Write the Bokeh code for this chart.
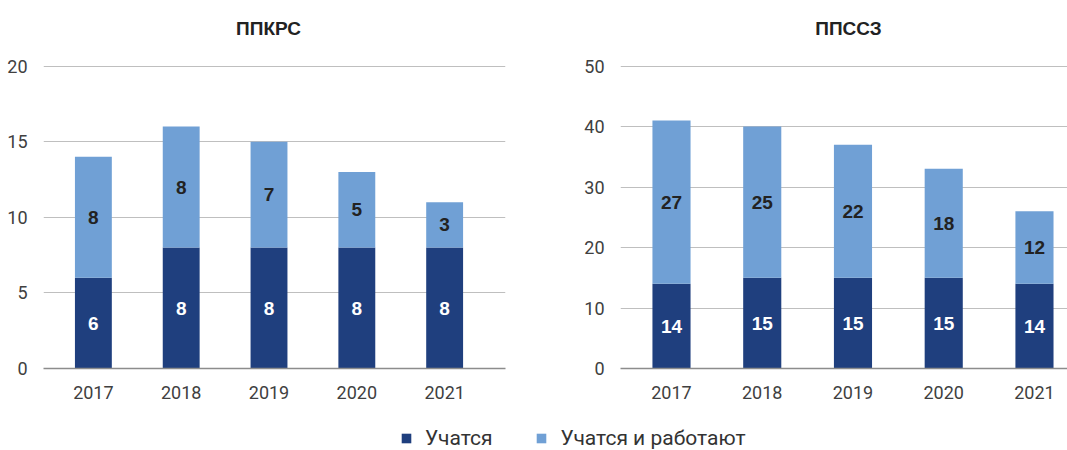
from bokeh.plotting import figure
from bokeh.models import (ColumnDataSource, Range1d, FixedTicker, Legend, LegendItem, Label)
from bokeh.layouts import column, row
from bokeh.core.properties import value
from bokeh.embed import file_html
from bokeh.resources import INLINE

# ---- data ----
years = ["2017", "2018", "2019", "2020", "2021"]
series_names = ["Учатся", "Учатся и работают"]
ppkrs_study = [6, 8, 8, 8, 8]
ppkrs_work = [8, 8, 7, 5, 3]
ppssz_study = [14, 15, 15, 15, 14]
ppssz_work = [27, 25, 22, 18, 12]
ppkrs_yticks = [0, 5, 10, 15, 20]
ppssz_yticks = [0, 10, 20, 30, 40, 50]

DARK = "#1f3f7e"
LIGHT = "#70a0d5"
TICK_FONT = "Roboto"
BOLD_FONT = "Liberation Sans"

FIG_H = 405
BORDER_BOTTOM = 37
FRAME_H = FIG_H - BORDER_BOTTOM     # frame reaches the top of the canvas (title lives inside)
SCALE_H = 302.5                      # pixel height from 0 to the top tick
TITLE_Y = 28                         # title centre, px from canvas top


def make_chart(title, study, work, yticks, width, border_left, border_right,
               x_start, x_end, title_x):
    xs = list(range(len(years)))
    src = ColumnDataSource(dict(
        x=xs,
        study=study,
        work=work,
        study_mid=[s / 2 for s in study],
        work_mid=[s + w / 2 for s, w in zip(study, work)],
        study_lbl=[str(s) for s in study],
        work_lbl=[str(w) for w in work],
    ))
    y_end = yticks[-1] * FRAME_H / SCALE_H
    p = figure(width=width, height=FIG_H, output_backend="svg", toolbar_location=None,
               title=None,
               x_range=Range1d(x_start, x_end), y_range=Range1d(yticks[0], y_end),
               min_border_left=border_left, min_border_right=border_right,
               min_border_top=0, min_border_bottom=BORDER_BOTTOM)
    p.outline_line_color = None
    p.vbar_stack(["study", "work"], x="x", width=0.42, color=[DARK, LIGHT],
                 line_color=None, source=src)
    p.text(x="x", y="study_mid", text="study_lbl", source=src, text_color="white",
           text_font=value(BOLD_FONT), text_font_style="bold", text_font_size="19px",
           text_align="center", text_baseline="middle")
    p.text(x="x", y="work_mid", text="work_lbl", source=src, text_color="#222222",
           text_font=value(BOLD_FONT), text_font_style="bold", text_font_size="19px",
           text_align="center", text_baseline="middle")

    # chart title
    p.add_layout(Label(x=title_x, y=FRAME_H - TITLE_Y, x_units="screen", y_units="screen",
                       text=title, text_align="center", text_baseline="middle",
                       text_font=BOLD_FONT, text_font_style="bold",
                       text_font_size="19px", text_color="#222222"))

    p.xgrid.visible = False
    p.ygrid.grid_line_color = "#bfbfbf"
    p.ygrid.grid_line_width = 1
    p.ygrid.ticker = FixedTicker(ticks=yticks)

    p.yaxis.ticker = FixedTicker(ticks=yticks)
    p.yaxis.axis_line_color = None
    p.yaxis.major_tick_line_color = None
    p.yaxis.minor_tick_line_color = None
    p.yaxis.major_label_standoff = 10
    p.yaxis.major_label_text_font = TICK_FONT
    p.yaxis.major_label_text_font_size = "18px"
    p.yaxis.major_label_text_color = "#404040"

    p.xaxis.ticker = FixedTicker(ticks=xs)
    p.xaxis.major_label_overrides = {i: y for i, y in zip(xs, years)}
    p.xaxis.axis_line_color = "#8c8c8c"
    p.xaxis.axis_line_width = 1.5
    p.xaxis.major_tick_line_color = None
    p.xaxis.minor_tick_line_color = None
    p.xaxis.major_label_standoff = 11
    p.xaxis.major_label_text_font = TICK_FONT
    p.xaxis.major_label_text_font_size = "18px"
    p.xaxis.major_label_text_color = "#404040"
    return p


p1 = make_chart("ППКРС", ppkrs_study, ppkrs_work, ppkrs_yticks, 560, 43, 55,
                -0.568, 4.693, 225)
p2 = make_chart("ППССЗ", ppssz_study, ppssz_work, ppssz_yticks, 507, 60, 0,
                -0.562, 4.364, 228)

leg = figure(width=1067, height=45, output_backend="svg", toolbar_location=None,
             x_range=Range1d(0, 1), y_range=Range1d(0, 1),
             x_axis_type=None, y_axis_type=None, min_border=0)
leg.outline_line_color = None
# zero-size legend proxies (they draw nothing in the plot area)
r1 = leg.vbar(x=[0.5], top=[0], bottom=[0], width=0, fill_color=DARK, line_color=None)
r2 = leg.vbar(x=[0.5], top=[0], bottom=[0], width=0, fill_color=LIGHT, line_color=None)
legend = Legend(items=[LegendItem(label=series_names[0], renderers=[r1]),
                       LegendItem(label=series_names[1], renderers=[r2])],
                orientation="horizontal", location=(400, 0))
legend.padding = 0
legend.margin = 0
legend.border_line_color = None
legend.background_fill_alpha = 0
legend.glyph_width = 12
legend.glyph_height = 12
legend.label_standoff = 13
legend.spacing = 43
legend.label_text_font = TICK_FONT
legend.label_text_font_size = "21px"
legend.label_text_color = "#333333"
leg.add_layout(legend, "center")

layout = column(row(p1, p2), leg)
open("out.html", "w").write(file_html(layout, INLINE))
